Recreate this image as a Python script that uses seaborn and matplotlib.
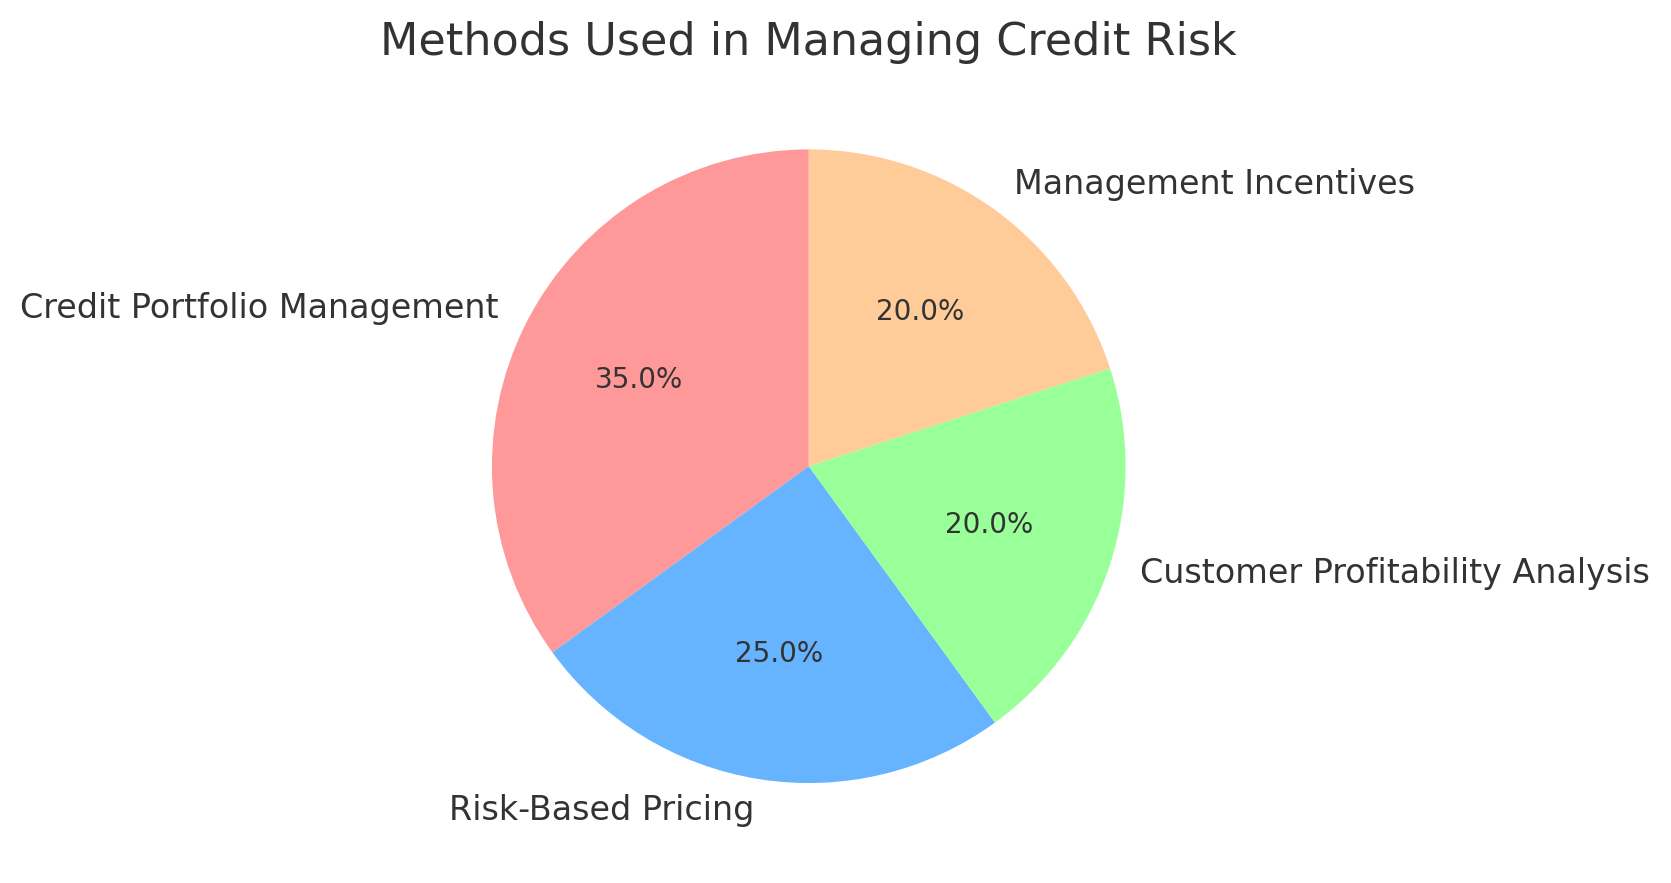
import matplotlib
matplotlib.use('Agg')
import matplotlib.pyplot as plt
import seaborn as sns

sns.set_theme(style='white')
plt.rcParams['font.family'] = ['DejaVu Sans']
plt.rcParams['text.color'] = '#333333'

methods = ['Credit Portfolio Management', 'Risk-Based Pricing',
           'Customer Profitability Analysis', 'Management Incentives']
shares = [35, 25, 20, 20]
colors = ['#ff9999', '#66b3ff', '#99ff99', '#ffcc99']

fig = plt.figure(figsize=(8.355, 4.415), dpi=200)
ax = fig.add_axes([0.247, 0.0235, 0.474, 0.897])
wedges, texts, autotexts = ax.pie(shares, labels=methods, colors=colors,
                                  autopct='%1.1f%%', startangle=90,
                                  wedgeprops={'linewidth': 0, 'edgecolor': 'none'},
                                  textprops={'fontsize': 12, 'color': '#333333'})
for t in autotexts:
    t.set_fontsize(10)
ax.set_aspect('equal')
ax.set_xlim(-1.25, 1.25)
ax.set_ylim(-1.25, 1.25)
ax.axis('off')
fig.suptitle('Methods Used in Managing Credit Risk', fontsize=16, color='#333333',
             x=0.484, y=0.976)

fig.savefig('out.png', dpi=200)
